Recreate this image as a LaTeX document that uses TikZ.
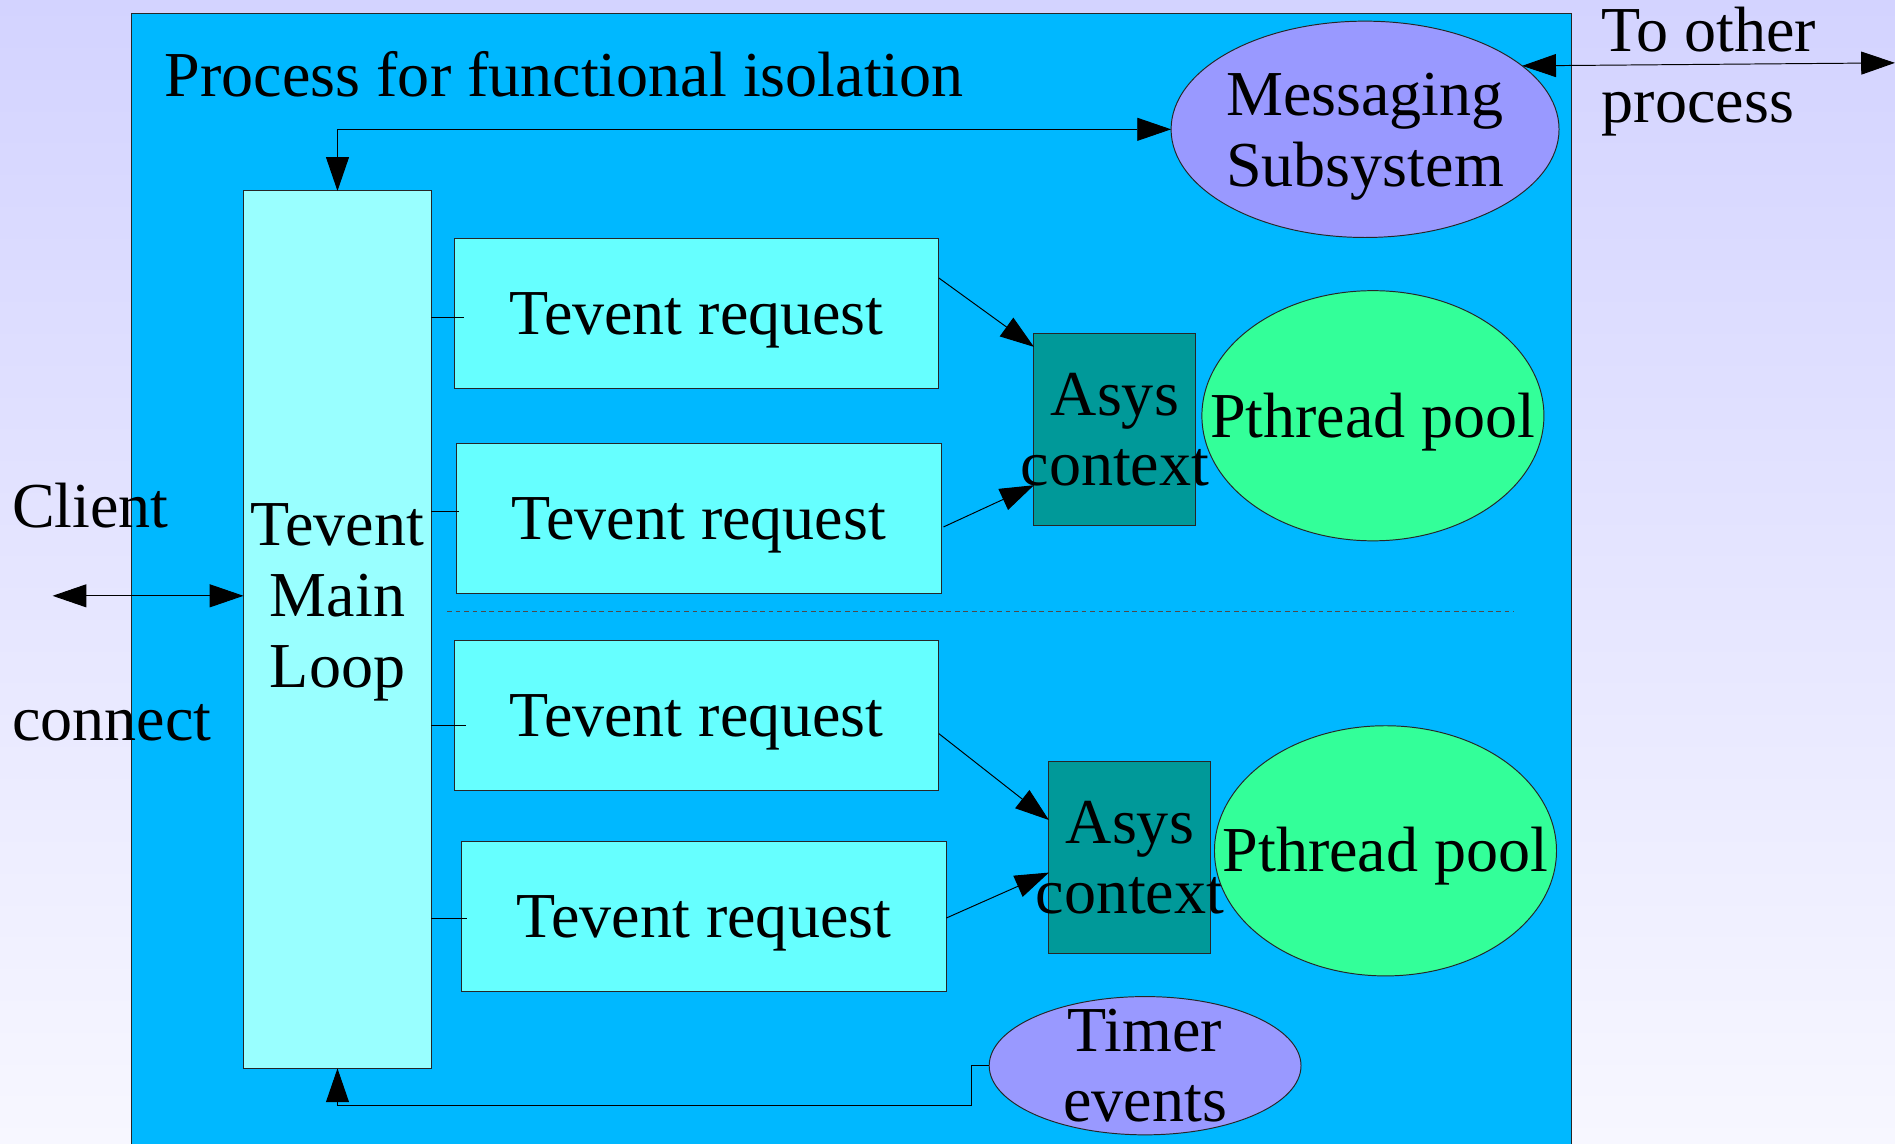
\documentclass[tikz,border=0pt]{standalone}
\usepackage{fontspec}
\setmainfont{Liberation Serif}
\usetikzlibrary{arrows.meta,shapes.geometric}
\definecolor{bgtop}{RGB}{211,211,255}
\definecolor{bgbot}{RGB}{247,247,255}
\definecolor{procblue}{RGB}{0,184,255}
\definecolor{mainfill}{RGB}{153,255,255}
\definecolor{reqfill}{RGB}{102,255,255}
\definecolor{asysfill}{RGB}{0,153,153}
\definecolor{poolfill}{RGB}{51,255,153}
\definecolor{msgfill}{RGB}{153,153,255}
\begin{document}
\begin{tikzpicture}[x=1pt,y=-1pt,
  every node/.style={inner sep=0pt,outer sep=0pt},
  bigfont/.style={font=\fontsize{53pt}{58.5pt}\selectfont},
  lbl/.style={bigfont,anchor=base},
  shapeline/.style={draw=black!85,line width=0.8pt},
  conn/.style={draw=black,line width=0.8pt},
  tipend/.style={-{Triangle[length=28pt,width=19pt]}},
  tipboth/.style={{Triangle[length=28pt,width=19pt]}-{Triangle[length=28pt,width=19pt]}},
  reqbox/.style={shapeline,fill=reqfill,minimum width=401pt,minimum height=124pt,bigfont,text height=35pt,text depth=0pt},
  asysbox/.style={shapeline,fill=asysfill,minimum width=134pt,minimum height=159pt},
  poolell/.style={ellipse,shapeline,fill=poolfill,minimum width=283pt,minimum height=207pt},
  sepline/.style={draw=black!70,line width=0.6pt,dash pattern=on 4pt off 3pt},
]
\useasboundingbox (0,0) rectangle (1568,946);
\shade[top color=bgtop,bottom color=bgbot] (0,0) rectangle (1568,946);
\clip (0,0) rectangle (1568,946);

% process frame
\node[shapeline,fill=procblue,minimum width=1192pt,minimum height=960pt,anchor=north west] (proc) at (108.5,11) {};
\node[lbl,anchor=base west] (title) at (136.5,79.5) {Process for functional isolation};

% messaging subsystem
\node[ellipse,shapeline,fill=msgfill,minimum width=321pt,minimum height=179pt] (msg) at (1129.5,107) {};
\node[lbl] (msgt1) at (1129.5,95.5) {Messaging};
\node[lbl] (msgt2) at (1129.5,154) {Subsystem};

\node[lbl,anchor=base west] (oth1) at (1325.5,43) {To other};
\node[lbl,anchor=base west] (oth2) at (1325.5,101.5) {process};
\coordinate (othend) at (1568,52);

% main loop
\node[shapeline,fill=mainfill,minimum width=155.5pt,minimum height=726pt,anchor=north west] (main) at (201.5,158) {};
\node[lbl] (mt1) at (279.25,451) {Tevent};
\node[lbl] (mt2) at (279.25,510) {Main};
\node[lbl] (mt3) at (279.25,568.5) {Loop};

% client
\node[lbl,anchor=base west] (client) at (10,436.6) {Client};
\node[lbl,anchor=base west] (connect) at (10,612.3) {connect};
\coordinate (clientend) at (43.5,493);

% requests
\node[reqbox] (req1) at (576.3,259.3) {Tevent request};
\node[reqbox] (req2) at (578.2,428.9) {Tevent request};
\node[reqbox] (req3) at (576.3,592) {Tevent request};
\node[reqbox] (req4) at (582.5,758) {Tevent request};

% asys contexts
\node[asysbox] (asys1) at (922.5,355.5) {};
\node[lbl] (as1a) at (922.5,343.5) {Asys};
\node[lbl] (as1b) at (922.5,402) {context};
\node[asysbox] (asys2) at (934.9,709.3) {};
\node[lbl] (as2a) at (934.9,697.8) {Asys};
\node[lbl] (as2b) at (934.9,755.7) {context};

% pthread pools
\node[poolell] (pool1) at (1136,344) {};
\node[lbl] (p1t) at (1136,361.7) {Pthread pool};
\node[poolell] (pool2) at (1146.4,704) {};
\node[lbl] (p2t) at (1146.4,721.3) {Pthread pool};

% timer
\node[ellipse,shapeline,fill=msgfill,minimum width=258pt,minimum height=114.4pt] (timer) at (947.5,881.8) {};
\node[lbl] (tt1) at (947.5,870) {Timer};
\node[lbl] (tt2) at (947.5,928) {events};

% separator
\coordinate (dashL) at (370,506);
\coordinate (dashR) at (1253,506);
\draw[sepline] (dashL) -- (dashR);

% connectors
\draw[conn,tipboth] (main.north) |- (msg.west);
\draw[conn,tipboth] (msg.22) -- (othend);
\draw[conn,tipboth] (clientend) -- (clientend -| main.west);
\draw[conn,tipend] (timer.west) -- ++(-14.5,0) -- ++(0,33) -| (main.south);

\coordinate (r1) at ([xshift=8pt,yshift=-3.7pt]req1.west);
\coordinate (r2) at ([xshift=2pt,yshift=5.9pt]req2.west);
\coordinate (r3) at ([xshift=10pt,yshift=-8pt]req3.west);
\coordinate (r4) at ([xshift=4pt,yshift=-2pt]req4.west);
\draw[conn] (r1 -| main.east) -- (r1);
\draw[conn] (r2 -| main.east) -- (r2);
\draw[conn] (r3 -| main.east) -- (r3);
\draw[conn] (r4 -| main.east) -- (r4);

\draw[conn,tipend] ([yshift=29.3pt]req1.east) -- ([yshift=68.5pt]asys1.west);
\draw[conn,tipend] ([xshift=2pt,yshift=-7.1pt]req2.east) -- ([yshift=-46pt]asys1.west);
\draw[conn,tipend] ([yshift=-15pt]req3.east) -- ([yshift=30.8pt]asys2.west);
\draw[conn,tipend] ([yshift=-1.6pt]req4.east) -- ([yshift=-12.7pt]asys2.west);
\end{tikzpicture}
\end{document}
